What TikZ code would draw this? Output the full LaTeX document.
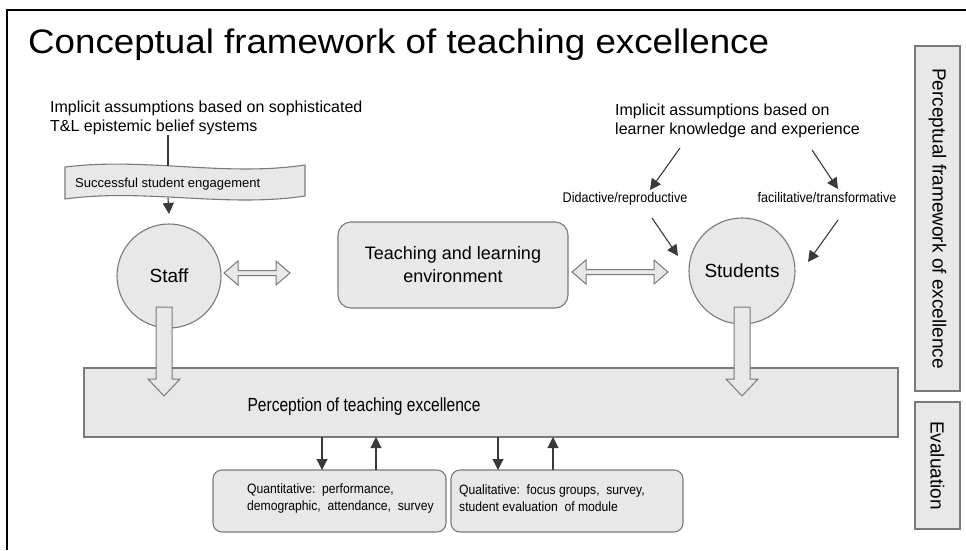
\documentclass[tikz,border=0pt]{standalone}
\usepackage{fontspec}
\setmainfont{Liberation Sans}
\newfontfamily\condfont[FakeStretch=0.82]{Liberation Sans}
\newfontfamily\semicond[FakeStretch=0.9]{Liberation Sans}
\newfontfamily\widefont[FakeStretch=1.08]{Liberation Sans}
\usetikzlibrary{arrows.meta}
\definecolor{boxfill}{HTML}{E8E8E8}
\definecolor{boxline}{HTML}{7A7A7A}
\definecolor{arr}{HTML}{3A3A3A}
\begin{document}
\begin{tikzpicture}[x=1pt,y=-1pt,
  shapebox/.style={draw=boxline,fill=boxfill,line width=1.1pt},
  darrow/.style={draw=arr,line width=1.1pt,-{Triangle[length=11pt,width=11pt]}},
  plainline/.style={draw=arr,line width=1.1pt},
  hollow/.style={draw=boxline,fill=boxfill,line width=1pt,line join=miter},
  lbl/.style={inner sep=0pt,align=left}]
\useasboundingbox (0,0) rectangle (966,550);
% frame
\draw[line width=2.5pt] (966,10) -- (7,10) -- (7,550);
% title
\node[inner sep=0pt,anchor=base west,font={\fontsize{34}{40}\selectfont\widefont}] (title) at (28,53) {Conceptual framework of teaching excellence};
% top texts
\node[lbl,anchor=north west,font={\fontsize{16}{19}\selectfont}] (ltext) at (50,101) {Implicit assumptions based on sophisticated\\T\&L epistemic belief systems};
\node[lbl,anchor=north west,font={\fontsize{16}{19}\selectfont}] (rtext) at (615,104) {Implicit assumptions based on\\learner knowledge and experience};
% banner
\draw[shapebox] (65,167) .. controls (145,157) and (225,177) .. (305,165) -- (305,196) .. controls (225,208) and (145,188) .. (65,199) -- cycle;
\node[lbl,anchor=west,font={\fontsize{13}{15}\selectfont}] (sse) at (75,184) {Successful student engagement};
\coordinate (bantop) at (168,166);
\coordinate (banbot) at (168,198);
% labels
\node[lbl,font={\fontsize{14}{16}\selectfont\semicond}] (did) at (625,199) {Didactive/reproductive};
\node[lbl,font={\fontsize{14}{16}\selectfont\semicond}] (fac) at (827,197) {facilitative/transformative};
% perception rectangle
\draw[shapebox] (84,368) rectangle (898,437);
\node[lbl,font={\fontsize{19}{22}\selectfont\condfont}] (perc) at (364,407) {Perception of teaching excellence};
% circles and environment
\node[shapebox,circle,minimum size=104pt,inner sep=0pt,font={\fontsize{19}{22}\selectfont}] (staff) at (169,276) {Staff};
\node[shapebox,circle,minimum size=106pt,inner sep=0pt,font={\fontsize{19}{22}\selectfont}] (students) at (742,271) {Students};
\node[shapebox,rounded corners=13pt,minimum width=230pt,minimum height=86pt,align=center,inner sep=0pt,font={\fontsize{18}{23}\selectfont}] (env) at (453,265) {Teaching and learning\\environment};
% hollow double arrows
\draw[hollow] (224,273) -- (238,261) -- (238,270.5) -- (276,270.5) -- (276,261) -- (290,273) -- (276,285) -- (276,275.5) -- (238,275.5) -- (238,285) -- cycle;
\draw[hollow] (572,272) -- (586,260) -- (586,269.5) -- (654,269.5) -- (654,260) -- (668,272) -- (654,284) -- (654,274.5) -- (586,274.5) -- (586,284) -- cycle;
% hollow down arrows
\draw[hollow] (156,307) -- (172,307) -- (172,379) -- (180,379) -- (164,396) -- (148,379) -- (156,379) -- cycle;
\draw[hollow] (734,307) -- (750,307) -- (750,379) -- (758,379) -- (742,396) -- (726,379) -- (734,379) -- cycle;
% evaluation boxes
\node[shapebox,rounded corners=9pt,minimum width=233pt,minimum height=62pt,inner sep=0pt] (quant) at (329.5,501) {};
\node[shapebox,rounded corners=9pt,minimum width=232pt,minimum height=62pt,inner sep=0pt] (qual) at (567,501) {};
\node[lbl,anchor=west,font={\fontsize{13.5}{17}\selectfont\semicond}] (quantt) at (247,498) {Quantitative:\ \ performance,\\demographic,\ \ attendance,\ \ survey};
\node[lbl,anchor=west,font={\fontsize{13.5}{17}\selectfont\semicond}] (qualt) at (459,498) {Qualitative:\ \ focus groups,\ \ survey,\\student evaluation\ \ of module};
% side panels
\node[shapebox,minimum width=45pt,minimum height=345pt,inner sep=0pt] (pfe) at (937.5,218.5) {};
\node[rotate=-90,inner sep=0pt,font={\fontsize{19}{22}\selectfont}] (pfet) at (pfe.center) {Perceptual framework of excellence};
\node[shapebox,minimum width=45pt,minimum height=127pt,inner sep=0pt] (evp) at (937.5,465.5) {};
\node[rotate=-90,inner sep=0pt,font={\fontsize{19}{22}\selectfont}] (evpt) at (evp.center) {Evaluation};
% connectors
\draw[plainline] (ltext.south -| bantop) -- (bantop);
\draw[darrow] (banbot) -- (staff.north |- 0,214);
\coordinate (r1) at (680,148);
\coordinate (r2) at (812,150);
\draw[darrow] (r1) -- (650,190);
\draw[darrow] (r2) -- (838,189);
\coordinate (d1) at (652,218);
\coordinate (f1) at (838,220);
\draw[darrow] (d1) -- (678,256);
\draw[darrow] (f1) -- (808,262);
\draw[darrow] (322,437) -- (322,470);
\draw[darrow] (376,470) -- (376,437);
\draw[darrow] (498,437) -- (498,470);
\draw[darrow] (553,470) -- (553,437);
\end{tikzpicture}
\end{document}
